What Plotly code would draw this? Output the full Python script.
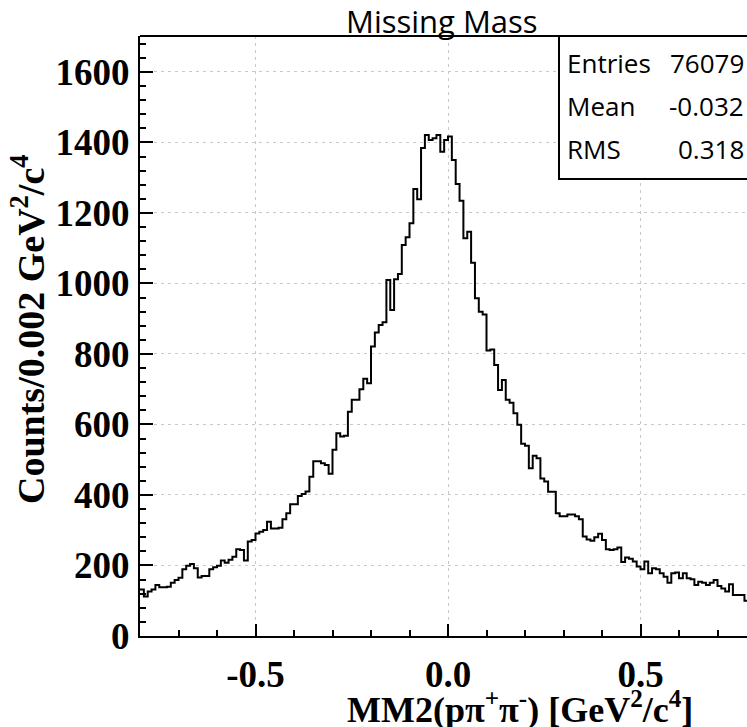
import numpy as np
import plotly.graph_objects as go

# ---- data -------------------------------------------------------------
x_min, bin_width = -0.8, 0.01
counts = [
    132, 112, 126, 132, 145, 138, 138, 140, 151, 159,
    165, 189, 199, 204, 192, 166, 170, 170, 189, 195,
    199, 214, 208, 216, 225, 246, 244, 214, 268, 272,
    291, 296, 301, 324, 305, 305, 307, 331, 348, 374,
    374, 397, 403, 410, 452, 496, 496, 490, 485, 460,
    528, 575, 566, 568, 636, 670, 670, 700, 730, 717,
    821, 861, 882, 890, 1010, 925, 1012, 1027, 1109, 1131,
    1171, 1268, 1239, 1384, 1421, 1407, 1412, 1421, 1374, 1407,
    1417, 1350, 1282, 1235, 1128, 1147, 1059, 958, 920, 912,
    810, 813, 769, 698, 726, 670, 662, 632, 599, 545,
    540, 476, 511, 504, 447, 438, 409, 409, 348, 340,
    340, 345, 345, 340, 331, 282, 274, 270, 280, 290,
    272, 246, 244, 246, 251, 210, 223, 219, 211, 197,
    189, 211, 178, 192, 189, 178, 168, 151, 178, 180,
    164, 178, 164, 161, 145, 154, 151, 145, 151, 159,
    142, 135, 126, 147, 116, 116, 116, 100, 116, 110,
]
x_ticks = [-0.5, 0.0, 0.5]
x_tick_text = ["-0.5", "0.0", "0.5"]
y_ticks = [0, 200, 400, 600, 800, 1000, 1200, 1400, 1600]
y_tick_text = [str(v) for v in y_ticks]
stat_names = ["Entries", "Mean", "RMS"]
stat_values = ["76079", "-0.032", "0.318"]

# ---- build step line from bin edges ----------------------------------
n = len(counts)
edges = x_min + bin_width * np.arange(n + 1)
xs = list(edges)
ys = list(counts) + [counts[-1]]

W, H = 747, 727
ML, MR, MT, MB = 140, 0, 36, 91
pw = W - ML - MR
ph = H - MT - MB
px_per_unit = 385.0
x_range = [-0.8, -0.8 + pw / px_per_unit]
y_range = [0, 1702]

fig = go.Figure()
fig.add_trace(go.Scatter(
    x=xs, y=ys, mode="lines", line=dict(color="black", width=2, shape="hv"),
    hoverinfo="skip", showlegend=False,
))

serif = "Liberation Serif"
sans = "Open Sans"
grid = dict(showgrid=True, gridcolor="#c8c8c8", gridwidth=1, griddash="3px,4px")

fig.update_layout(
    width=W, height=H,
    margin=dict(l=ML, r=MR, t=MT, b=MB, pad=0),
    paper_bgcolor="white", plot_bgcolor="white",
    showlegend=False,
    xaxis=dict(
        range=x_range, tickmode="array", tickvals=x_ticks, ticktext=x_tick_text,
        ticks="inside", ticklen=12, tickwidth=1.5, tickcolor="black",
        showline=True, linecolor="black", linewidth=2, zeroline=False,
        tickfont=dict(family=serif, size=37, color="black", weight="bold"),
        ticklabelstandoff=5,
        minor=dict(tickmode="linear", tick0=0, dtick=0.1, ticks="inside",
                   ticklen=6, tickwidth=1.5, tickcolor="black", showgrid=False),
        **grid,
    ),
    yaxis=dict(
        range=y_range, tickmode="array", tickvals=y_ticks, ticktext=y_tick_text,
        ticks="inside", ticklen=13, tickwidth=1.5, tickcolor="black",
        showline=True, linecolor="black", linewidth=2, zeroline=False,
        tickfont=dict(family=serif, size=37, color="black", weight="bold"),
        ticklabelstandoff=1,
        minor=dict(tickmode="linear", tick0=0, dtick=40, ticks="inside",
                   ticklen=6, tickwidth=1.5, tickcolor="black", showgrid=False),
        **grid,
    ),
)

# top frame line
fig.add_shape(type="line", xref="paper", yref="paper", x0=0, x1=1.02, y0=1, y1=1,
              line=dict(color="black", width=2), layer="above")

# stats box
bx0 = (559 - ML) / pw
by0 = (MT + ph - 179) / ph
fig.add_shape(type="rect", xref="paper", yref="paper", x0=bx0, x1=1.05, y0=by0, y1=1,
              line=dict(color="black", width=2), fillcolor="white", layer="above")

row_y = [62.7, 106, 149]
for name, val, ry in zip(stat_names, stat_values, row_y):
    yp = (MT + ph - ry) / ph
    fig.add_annotation(text=name, xref="paper", yref="paper", x=(565 - ML) / pw, y=yp,
                       xanchor="left", yanchor="middle", showarrow=False,
                       font=dict(family=sans, size=26, color="black"))
    fig.add_annotation(text=val, xref="paper", yref="paper", x=(746 - ML) / pw, y=yp,
                       xanchor="right", yanchor="middle", showarrow=False,
                       font=dict(family=sans, size=26, color="black"))

# title
fig.add_annotation(text="Missing Mass", xref="paper", yref="paper",
                   x=(442 - ML) / pw, y=(MT + ph - 21) / ph,
                   xanchor="center", yanchor="middle", showarrow=False,
                   font=dict(family=sans, size=31, color="black"))

# axis titles
fig.add_annotation(text="MM2(pπ<sup>+</sup>π<sup>-</sup>) [GeV<sup>2</sup>/c<sup>4</sup>]",
                   xref="paper", yref="paper",
                   x=(520 - ML) / pw, y=(MT + ph - 707) / ph,
                   xanchor="center", yanchor="middle", showarrow=False,
                   font=dict(family=serif, size=36, color="black", weight="bold"))
fig.add_annotation(text="Counts/0.002 GeV<sup>2</sup>/c<sup>4</sup>",
                   xref="paper", yref="paper",
                   x=(28 - ML) / pw, y=(MT + ph - 329) / ph, textangle=-90,
                   xanchor="center", yanchor="middle", showarrow=False,
                   font=dict(family=serif, size=38, color="black", weight="bold"))

fig.write_html("out.html")
